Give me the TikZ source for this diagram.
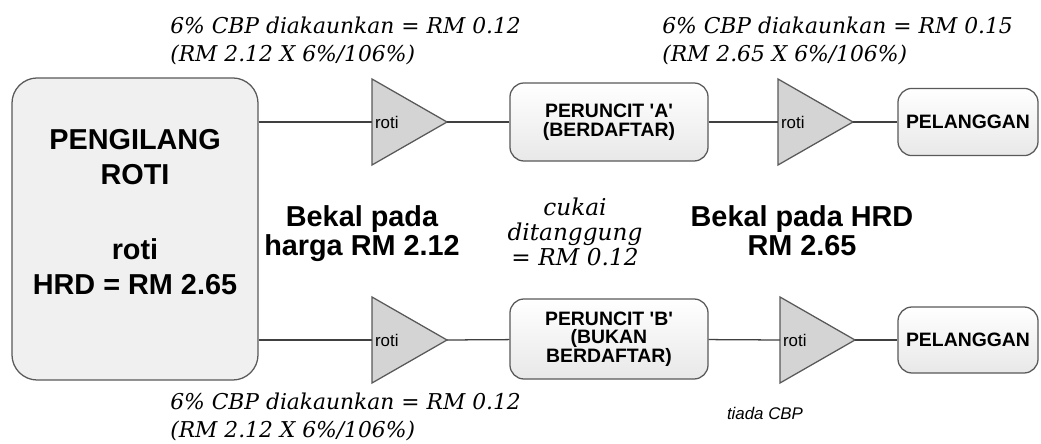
\documentclass[tikz,border=0pt]{standalone}
\usepackage{fontspec}
\setmainfont{Liberation Sans}
\newfontfamily\cambr{DejaVu Serif}
\begin{document}
\begin{tikzpicture}[x=0.025cm, y=-0.025cm]
  %
  \tikzstyle{bx} = [draw=black!65, line width=0.9pt, top color=white, bottom color=black!9, rounded corners=10pt, inner sep=0pt, align=center, font=\bfseries\fontsize{13.8}{13.2}\selectfont]
  \tikzstyle{tri} = [draw=black!65, line width=0.9pt, fill=black!17]
  \tikzstyle{ln} = [draw=black!75, line width=0.9pt]
  \tikzstyle{note} = [font=\cambr\itshape\fontsize{15.5}{20}\selectfont, align=left, inner sep=0pt]
  \tikzstyle{big} = [font=\bfseries\fontsize{20.5}{20.5}\selectfont, align=center, inner sep=0pt]
  \useasboundingbox (0,0) rectangle (1041,444);
  % pengilang
  \node[draw=black!65, line width=0.9pt, fill=black!6, rounded corners=18pt, minimum width=6.15cm, minimum height=7.55cm] (mfr) at (135,229) {};
  \node[big, font=\bfseries\fontsize{20.5}{25}\selectfont] (mfrtxt) at (135,212) {PENGILANG\\ROTI\\[28pt]roti\\HRD = RM 2.65};
  % peruncit dan pelanggan
  \node[bx, minimum width=4.95cm, minimum height=1.95cm] (pa) at (609,122) {PERUNCIT \textquotesingle A\textquotesingle\\(BERDAFTAR)};
  \node[bx, minimum width=4.95cm, minimum height=2.0cm] (pb) at (609,339) {PERUNCIT \textquotesingle B\textquotesingle\\(BUKAN\\BERDAFTAR)};
  \node[bx, minimum width=3.5cm, minimum height=1.68cm] (pla) at (968,122) {PELANGGAN};
  \node[bx, minimum width=3.5cm, minimum height=1.65cm] (plb) at (968,340) {PELANGGAN};
  % segitiga roti
  \foreach \n/\x/\y in {t1/372/122, t2/372/340, t3/778/122, t4/780/340} {
    \draw[tri] (\x,\y-43) -- (\x+75,\y) -- (\x,\y+43) -- cycle;
    \coordinate (\n in) at (\x,\y);
    \coordinate (\n out) at (\x+75,\y);
    \node[anchor=west, inner sep=2pt, font=\fontsize{12}{12}\selectfont] (\n txt) at (\x,\y) {roti};
  }
  % garis
  \draw[ln] (mfr.east |- t1in) -- (t1in);
  \draw[ln] (t1out) -- (pa);
  \draw[ln] (pa) -- (t3in);
  \draw[ln] (t3out) -- (pla);
  \draw[ln] (mfr.east |- t2in) -- (t2in);
  \draw[ln] (t2out) -- (pb);
  \draw[ln] (pb) -- (t4in);
  \draw[ln] (t4out) -- (plb);
  % catatan
  \node[note, anchor=west] (cbpa) at (170,41) {6\% CBP diakaunkan = RM 0.12\\(RM 2.12 X 6\%/106\%)};
  \node[note, anchor=west] (cbpc) at (662,41) {6\% CBP diakaunkan = RM 0.15\\(RM 2.65 X 6\%/106\%)};
  \node[note, anchor=west] (cbpb) at (170,417) {6\% CBP diakaunkan = RM 0.12\\(RM 2.12 X 6\%/106\%)};
  \node[note, align=center, font=\cambr\itshape\fontsize{16.5}{18}\selectfont] (cukai) at (575,232) {cukai\\ditanggung\\= RM 0.12};
  \node[big] (bekal1) at (362,234) {Bekal pada\\harga RM 2.12};
  \node[big] (bekal2) at (802,231) {Bekal pada HRD\\RM 2.65};
  \node[font=\itshape\fontsize{12}{12}\selectfont] (tiada) at (765,413) {tiada CBP};
\end{tikzpicture}
\end{document}
